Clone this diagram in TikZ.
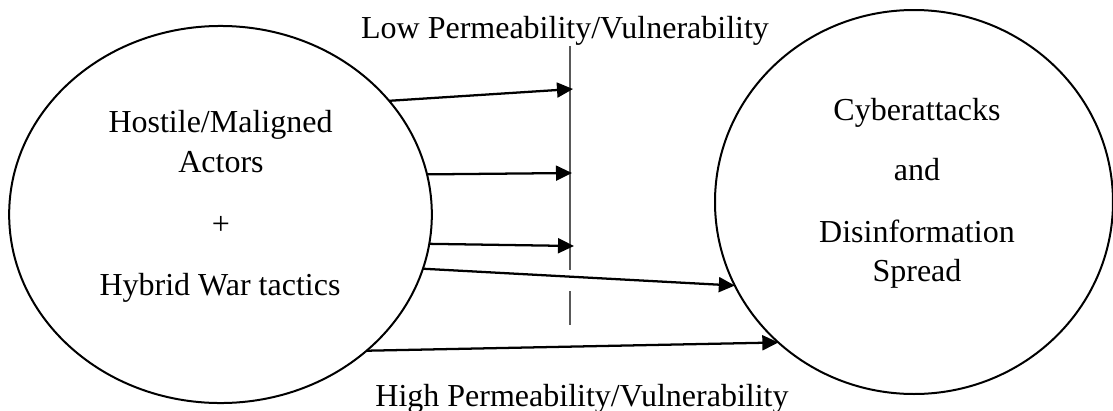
\documentclass[tikz,border=0pt]{standalone}
\usepackage{fontspec}
\setmainfont{Liberation Serif}
\usetikzlibrary{arrows.meta,shapes.geometric}
\begin{document}
\begin{tikzpicture}[x=0.375pt,y=-0.375pt,
  oval/.style={ellipse,draw,line width=0.75pt,inner sep=0pt,outer sep=0pt},
  lbl/.style={anchor=base,font=\fontsize{12}{14}\selectfont,inner sep=0pt},
  arr/.style={-{Triangle[length=6pt,width=5.6pt]},line width=0.85pt},
  barrier/.style={draw=black!65,line width=0.55pt}]
\useasboundingbox (0,0) rectangle (1113,411);
% ellipses
\node[oval,minimum width=158.5pt,minimum height=141.4pt] (L) at (220.5,214.5) {};
\node[oval,minimum width=149.25pt,minimum height=144pt] (R) at (914,202) {};
% texts
\node[lbl] (low) at (565,38) {Low Permeability/Vulnerability};
\node[lbl] (high) at (582,406) {High Permeability/Vulnerability};
\node[lbl] (l1) at (220.5,132) {Hostile/Maligned};
\node[lbl] (l2) at (221,172) {Actors};
\node[lbl] (l3) at (221,234) {+};
\node[lbl] (l4) at (220,295) {Hybrid War tactics};
\node[lbl] (r1) at (917,120) {Cyberattacks};
\node[lbl] (r2) at (917,180) {and};
\node[lbl] (r3) at (917,242) {Disinformation};
\node[lbl] (r4) at (917,281) {Spread};
% barrier line
\coordinate (b1) at (570,46);
\coordinate (b2) at (570,270);
\coordinate (b3) at (570,291);
\coordinate (b4) at (570,325);
\draw[barrier] (b1) -- (b2);
\draw[barrier] (b3) -- (b4);
% arrow heads at barrier
\coordinate (h1) at (573,89);
\coordinate (h2) at (572,173);
\coordinate (h3) at (574,246);
% arrows
\draw[arr] (L.34) -- (h1);
\draw[arr] (L.11.3) -- (h2);
\draw[arr] (L.-8.55) -- (h3);
\draw[arr] (L.-15.13) -- (R.205.3);
\draw[arr] (L.-43.97) -- (R.226.04);
\end{tikzpicture}
\end{document}
